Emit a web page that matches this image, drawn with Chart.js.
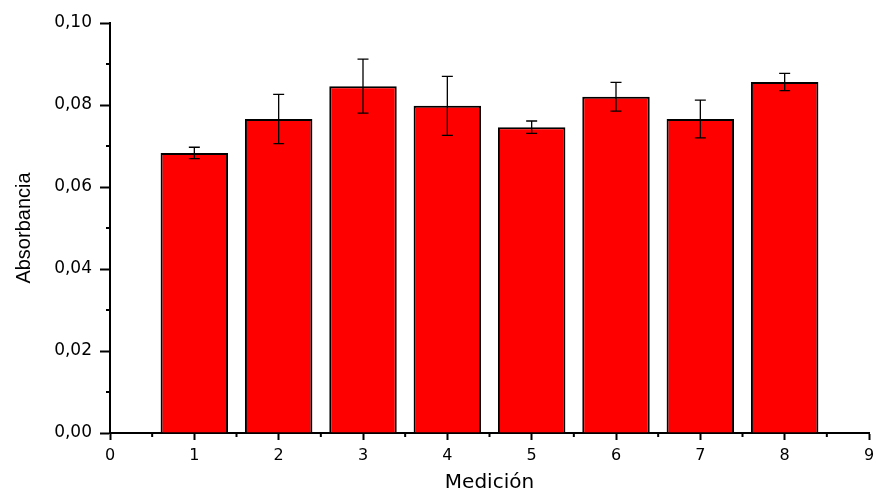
<!DOCTYPE html>
<html>
<head>
<meta charset="utf-8">
<script src="https://cdn.jsdelivr.net/npm/chart.js@4.4.0/dist/chart.umd.min.js"></script>
<style>
  html, body { margin: 0; padding: 0; background: #fff; }
  #wrap { width: 876px; height: 493px; }
</style>
</head>
<body>
<div id="wrap"><canvas id="absChart" width="876" height="493"></canvas></div>
<script>
// Medición number, absorbance mean and error (±)
var mediciones = [1, 2, 3, 4, 5, 6, 7, 8];
var absorbancia = [0.0683, 0.0766, 0.0846, 0.0798, 0.0746, 0.0820, 0.0766, 0.0856];
var errores = [0.0014, 0.0060, 0.0066, 0.0072, 0.0015, 0.0035, 0.0046, 0.0021];

// minor tick positions
var xMinor = [0.5, 1.5, 2.5, 3.5, 4.5, 5.5, 6.5, 7.5, 8.5];
var yMinor = [0.01, 0.03, 0.05, 0.07, 0.09];

var errorBars = {
    id: 'errorBars',
    afterDatasetsDraw: function(chart) {
        var ctx = chart.ctx;
        var xs = chart.scales.x, ys = chart.scales.y;
        ctx.save();
        ctx.strokeStyle = '#000';
        ctx.lineWidth = 1.3;
        for (var i = 0; i < mediciones.length; i++) {
            var x = xs.getPixelForValue(mediciones[i]);
            var yt = ys.getPixelForValue(absorbancia[i] + errores[i]);
            var yb = ys.getPixelForValue(absorbancia[i] - errores[i]);
            ctx.beginPath();
            ctx.moveTo(x, yt); ctx.lineTo(x, yb);
            ctx.moveTo(x - 5.5, yt); ctx.lineTo(x + 5.5, yt);
            ctx.moveTo(x - 5.5, yb); ctx.lineTo(x + 5.5, yb);
            ctx.stroke();
        }
        ctx.restore();
    }
};

var minorTicks = {
    id: 'minorTicks',
    afterDraw: function(chart) {
        var ctx = chart.ctx;
        var xs = chart.scales.x, ys = chart.scales.y;
        var area = chart.chartArea;
        ctx.save();
        ctx.strokeStyle = '#000';
        ctx.lineWidth = 2;
        ctx.beginPath();
        xMinor.forEach(function(v) {
            var x = xs.getPixelForValue(v);
            ctx.moveTo(x, area.bottom); ctx.lineTo(x, area.bottom + 4);
        });
        yMinor.forEach(function(v) {
            var y = ys.getPixelForValue(v);
            ctx.moveTo(area.left, y); ctx.lineTo(area.left - 4, y);
        });
        ctx.stroke();
        ctx.restore();
    }
};

var ctxAbs = document.getElementById('absChart').getContext('2d');
new Chart(ctxAbs, {
    type: 'bar',
    data: {
        datasets: [{
            data: mediciones.map(function(m, i) { return { x: m, y: absorbancia[i] }; }),
            backgroundColor: '#FF0000',
            borderColor: '#000000',
            borderWidth: 2,
            barPercentage: 0.8,
            categoryPercentage: 1.0
        }]
    },
    options: {
        responsive: false,
        devicePixelRatio: 1,
        animation: false,
        layout: { padding: { left: 0, top: 23, right: 2, bottom: 0 } },
        plugins: {
            legend: { display: false },
            tooltip: { enabled: false }
        },
        scales: {
            x: {
                type: 'linear',
                offset: false,
                min: 0,
                max: 9,
                afterFit: function(s) { s.height = 60; s.paddingRight = 7; s.paddingLeft = 0; },
                ticks: {
                    stepSize: 1,
                    color: '#000',
                    padding: 6,
                    font: { family: 'DejaVu Sans', size: 16 }
                },
                grid: { offset: false, drawOnChartArea: false, tickLength: 7, tickColor: '#000', tickWidth: 2 },
                border: { color: '#000', width: 2 },
                title: {
                    display: true,
                    text: 'Medición',
                    color: '#000',
                    padding: { top: 0, bottom: 0 },
                    font: { family: 'DejaVu Sans', size: 20, lineHeight: 1.0 }
                }
            },
            y: {
                min: 0,
                max: 0.1,
                afterFit: function(s) { s.width = 110; },
                ticks: {
                    stepSize: 0.02,
                    color: '#000',
                    padding: 8,
                    font: { family: 'DejaVu Sans', size: 17 },
                    callback: function(v) { return v.toFixed(2).replace('.', ','); }
                },
                grid: { drawOnChartArea: false, tickLength: 10, tickColor: '#000', tickWidth: 2 },
                border: { color: '#000', width: 2 },
                title: {
                    display: true,
                    text: 'Absorbancia',
                    color: '#000',
                    padding: { top: 12, bottom: 0 },
                    font: { family: 'Liberation Sans', size: 20 }
                }
            }
        }
    },
    plugins: [errorBars, minorTicks]
});
</script>
</body>
</html>
